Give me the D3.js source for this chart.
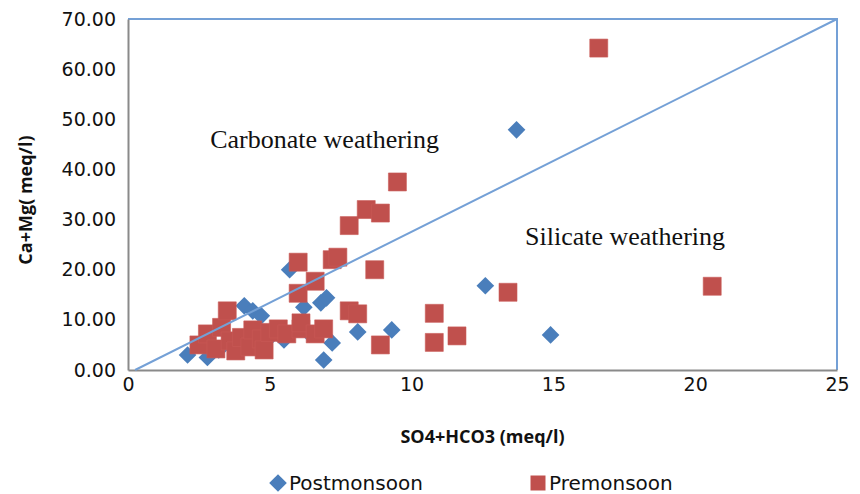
<!DOCTYPE html>
<head>
  <meta charset="utf-8">
  <style>
    body { margin: 0; background: #fff; }
    svg .tick text {
      font: 19px "DejaVu Sans";
      fill: #111;
    }
    svg .axis-title {
      font-family: "Open Sans";
      font-weight: bold;
      fill: #111;
    }
    svg .note {
      font: 26px "Liberation Serif";
      fill: #111;
    }
    svg .legend text {
      font: 20px "DejaVu Sans";
      fill: #111;
    }
  </style>
</head>

<body>
<script src="https://cdnjs.cloudflare.com/ajax/libs/d3/7.8.5/d3.min.js"></script>

<script>
  // values: [SO4+HCO3, Ca+Mg] in meq/l
  var postmonsoon = [
    [2.1, 3.0], [2.8, 2.5], [3.2, 4.0], [3.8, 6.0], [4.1, 12.8], [4.4, 11.8],
    [4.7, 10.8], [4.3, 7.5], [5.0, 6.5], [5.5, 6.0], [5.7, 20.0], [6.2, 12.5],
    [6.4, 7.2], [6.8, 13.4], [7.0, 14.4], [7.2, 5.4], [6.9, 2.0], [8.1, 7.6],
    [9.3, 8.0], [12.6, 16.8], [13.7, 47.9], [14.9, 7.0]
  ];

  var premonsoon = [
    [2.5, 5.0], [2.8, 7.2], [3.1, 4.2], [3.3, 8.5], [3.5, 11.8], [3.6, 5.8],
    [3.8, 3.8], [4.0, 6.5], [4.3, 4.6], [4.4, 8.0], [4.7, 6.2], [4.8, 4.0],
    [5.0, 7.5], [5.3, 8.2], [5.6, 7.2], [6.1, 8.2], [6.1, 9.4], [6.6, 7.2],
    [6.9, 8.2], [6.0, 21.5], [6.0, 15.3], [6.6, 17.7], [7.2, 22.0], [7.4, 22.5],
    [7.8, 28.8], [8.4, 32.0], [8.9, 31.3], [9.5, 37.5], [16.6, 64.2], [8.7, 20.0],
    [7.8, 11.8], [8.1, 11.2], [8.9, 5.0], [10.8, 11.3], [10.8, 5.5], [11.6, 6.8],
    [13.4, 15.5], [20.6, 16.7]
  ];

  var boundary = [[0.25, 0], [25, 70]];   // dividing line

  var xTicks = [0, 5, 10, 15, 20, 25];
  var yTicks = [0, 10, 20, 30, 40, 50, 60, 70];

  var seriesNames = ["Postmonsoon", "Premonsoon"];
  var notes = [
    { text: "Carbonate weathering", x: 2.9, y: 44.3 },
    { text: "Silicate weathering", x: 14.0, y: 24.9 }
  ];

  var padding = { top: 19, right: 23, bottom: 124, left: 128 };
  var W = 860, H = 494;
  var width  = W - padding.left - padding.right,
      height = H - padding.top - padding.bottom;

  var blue = "#4a7ebb", red = "#c0504d", lineBlue = "#74a0d6";

  var svg = d3.select("body")
    .append("svg")
      .attr("width", W)
      .attr("height", H);

  var g = svg.append("g")
      .attr("transform", "translate(" + padding.left + "," + padding.top + ")");

  var xScale = d3.scaleLinear().domain([0, 25]).range([0, width]);
  var yScale = d3.scaleLinear().domain([0, 70]).range([height, 0]);

  // top and right frame (blue)
  g.append("path")
      .attr("d", "M0," + yScale(70) + "H" + xScale(25) + "V" + yScale(0))
      .style("fill", "none")
      .style("stroke", lineBlue)
      .style("stroke-width", "2px");

  // axes
  var xAxis = d3.axisBottom(xScale)
      .tickValues(xTicks)
      .tickSize(0)
      .tickPadding(8)
      .tickFormat(d3.format("d"));

  var yAxis = d3.axisLeft(yScale)
      .tickValues(yTicks)
      .tickSize(0)
      .tickPadding(12)
      .tickFormat(d3.format(".2f"));

  var xa = g.append("g")
      .attr("transform", "translate(0," + height + ")")
      .call(xAxis);

  var ya = g.append("g")
      .call(yAxis);

  [xa, ya].forEach(function (a) {
    a.select(".domain")
      .style("stroke", "#8a8a8a")
      .style("stroke-width", "2px");
  });

  // axis titles
  g.append("text")
      .classed("axis-title", true)
      .attr("x", xScale(12.5))
      .attr("y", height + 73)
      .style("text-anchor", "middle")
      .style("font-size", "18px")
      .text("SO4+HCO3 (meq/l)");

  svg.append("text")
      .classed("axis-title", true)
      .attr("transform", "translate(32,200) rotate(-90)")
      .style("text-anchor", "middle")
      .style("font-size", "18px")
      .text("Ca+Mg( meq/l)");

  // annotations
  g.selectAll("text.note")
    .data(notes)
    .enter().append("text")
      .classed("note", true)
      .attr("x", function (d) { return xScale(d.x); })
      .attr("y", function (d) { return yScale(d.y); })
      .text(function (d) { return d.text; });

  // points
  var diamond = d3.symbol().type(d3.symbolSquare).size(156);
  var square  = d3.symbol().type(d3.symbolSquare).size(324);

  g.selectAll("path.post")
    .data(postmonsoon)
    .enter().append("path")
      .classed("post", true)
      .attr("d", diamond)
      .attr("transform", function (d) {
        return "translate(" + xScale(d[0]) + "," + yScale(d[1]) + ") rotate(45)";
      })
      .style("fill", blue);

  g.selectAll("path.pre")
    .data(premonsoon)
    .enter().append("path")
      .classed("pre", true)
      .attr("d", square)
      .attr("transform", function (d) {
        return "translate(" + xScale(d[0]) + "," + yScale(d[1]) + ")";
      })
      .style("fill", red)
      .style("stroke", "#c95a57")
      .style("stroke-width", "0.6px");

  // dividing line
  var line = d3.line()
      .x(function (d) { return xScale(d[0]); })
      .y(function (d) { return yScale(d[1]); });

  g.append("path")
      .attr("d", line(boundary))
      .style("fill", "none")
      .style("stroke", lineBlue)
      .style("stroke-width", "2px");

  // legend
  var legend = svg.append("g").classed("legend", true);
  var legendX = [278, 538];

  seriesNames.forEach(function (name, i) {
    legend.append("path")
        .attr("d", i === 0 ? diamond : d3.symbol().type(d3.symbolSquare).size(225))
        .attr("transform", "translate(" + legendX[i] + ",483)" + (i === 0 ? " rotate(45)" : ""))
        .style("fill", i === 0 ? blue : red);

    legend.append("text")
        .attr("x", legendX[i] + 11)
        .attr("y", 483)
        .attr("dy", "0.35em")
        .text(name);
  });
</script>
</body>
</html>
